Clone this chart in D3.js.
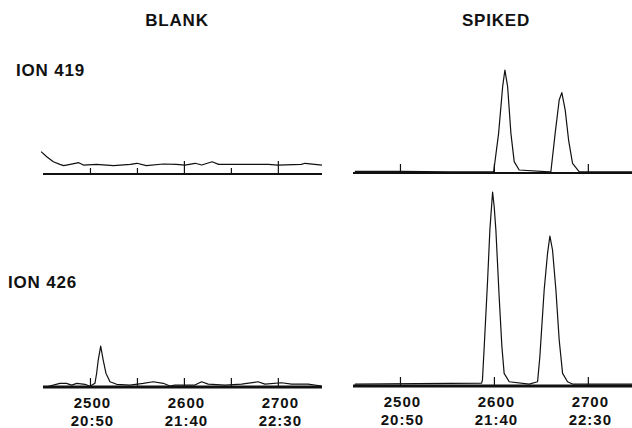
<!DOCTYPE html>
<html>
<head>
<meta charset="utf-8">
<script src="https://cdn.jsdelivr.net/npm/d3@7"></script>
<style>
  body { margin: 0; background: #fff; }
  text { font-family: "Liberation Sans", Arial, sans-serif; font-weight: bold; fill: #111; }
</style>
</head>
<body>
<svg id="chart" width="632" height="428"></svg>
<script>
// 1. Data  (scan number, relative intensity 0-100)
const columns = ["BLANK", "SPIKED"];
const ions = ["ION 419", "ION 426"];
const scanLabels = [2500, 2600, 2700];
const timeLabels = ["20:50", "21:40", "22:30"];
const minorTicks = [2500, 2550, 2650];
const majorTicks = [2600, 2700];
const spikedTicks = [2500, 2600, 2700];

const blank419 = [
  [2448, 21.7], [2454, 16.8], [2461, 11.9], [2468, 9.4], [2472, 8.1], [2479, 9.4],
  [2488, 11], [2493, 8.7], [2507, 9.4], [2525, 8.1], [2543, 9.4], [2550, 10.4],
  [2560, 8.1], [2578, 9.7], [2592, 9.4], [2601, 8.7], [2612, 10.4], [2619, 8.7],
  [2630, 11.9], [2637, 9.4], [2661, 9.4], [2690, 9.4], [2700, 8.7], [2725, 9.4],
  [2729, 10.4], [2747, 8.7]
];

const spiked419 = [
  [2452, 1.5], [2500, 1.5], [2553, 1.2], [2599.7, 1], [2605, 38.5], [2609.3, 83.8],
  [2611.7, 100], [2614.6, 83.8], [2618.1, 38.5], [2621.6, 11], [2626.9, 2.9],
  [2658.8, 1], [2660.6, 1], [2665.2, 38.5], [2669.5, 70.9], [2672.3, 78],
  [2675.9, 61], [2679.5, 32], [2683.7, 9.4], [2690.7, 1.3], [2747, 1.2]
];

const blank426 = [
  [2453, 0], [2468, 1.9], [2475, 1.9], [2480.5, 1], [2486, 1.9], [2494.7, 1.4],
  [2500, 0.4], [2505.3, 1.9], [2507.1, 7.1], [2508.8, 13.9], [2511.4, 21.1],
  [2514.1, 13.9], [2517, 7.1], [2521.3, 2.7], [2528.4, 1.4], [2542.6, 1],
  [2556.7, 1.9], [2567.3, 2.7], [2578, 1.9], [2585.1, 0.5], [2590.4, 1],
  [2611.7, 1], [2618.8, 2.7], [2625.9, 1.5], [2643.6, 1], [2661.4, 1.5],
  [2679, 2.7], [2686.2, 1.5], [2703.9, 2.2], [2714.6, 1.5], [2732.2, 1.5], [2746.5, 0.5]
];

const spiked426 = [
  [2452, 1], [2586.9, 1.5], [2587.8, 3.1], [2589.7, 20.4], [2593.3, 54.6], [2595.7, 80.4],
  [2598.6, 100], [2600.3, 92.4], [2602.1, 80.4], [2605.6, 45.9], [2608.5, 20.3],
  [2610.9, 6.5], [2616.3, 2.2], [2637.6, 1], [2646.5, 2.2], [2648.9, 15.1],
  [2653.5, 49.5], [2657.1, 68.4], [2659.6, 77.3], [2662.4, 70.1], [2666, 49.5],
  [2669.5, 23.7], [2673.1, 6.5], [2678.4, 2.2], [2683.7, 1], [2747, 1]
];

// 2. Layout
const scanDomain = [2450, 2747];
const panels = [
  { data: blank419, xr: [43, 322], yr: [174, 71], axisW: 2, kind: "blank", row: 0 },
  { data: spiked419, xr: [353, 632], yr: [173, 70], axisW: 2, kind: "spiked", row: 0 },
  { data: blank426, xr: [43, 322], yr: [387, 193], axisW: 3, kind: "blank", row: 1 },
  { data: spiked426, xr: [353, 632], yr: [386, 192], axisW: 3, kind: "spiked", row: 1 }
];

const svg = d3.select("#chart");

// Titles
svg.selectAll("text.col")
  .data(columns)
  .join("text")
  .attr("class", "col")
  .attr("x", (d, i) => [177, 496][i])
  .attr("y", 26)
  .attr("text-anchor", "middle")
  .style("font-size", "17px")
  .style("letter-spacing", "0.8px")
  .text((d) => d);

svg.selectAll("text.ion")
  .data(ions)
  .join("text")
  .attr("class", "ion")
  .attr("x", (d, i) => [16, 8][i])
  .attr("y", (d, i) => [76, 288][i])
  .style("font-size", "17px")
  .style("letter-spacing", "0.8px")
  .text((d) => d);

// 3. Panels
panels.forEach((p) => {
  const xScale = d3.scaleLinear().domain(scanDomain).range(p.xr);
  const yScale = d3.scaleLinear().domain([0, 100]).range(p.yr);
  const g = svg.append("g");
  const y0 = yScale(0);

  // baseline
  g.append("line")
    .attr("x1", p.xr[0])
    .attr("x2", p.xr[1])
    .attr("y1", y0)
    .attr("y2", y0)
    .attr("stroke", "#111")
    .attr("stroke-width", p.axisW);

  // ticks pointing up from the baseline
  const tickSets = p.kind === "spiked"
    ? [[spikedTicks, 9]]
    : p.row === 0 ? [[minorTicks, 6], [majorTicks, 13]] : [[minorTicks.concat(majorTicks), 9]];

  tickSets.forEach(([vals, len]) => {
    const ax = g.append("g")
      .attr("transform", `translate(0,${y0})`)
      .call(d3.axisTop(xScale).tickValues(vals).tickSize(len).tickFormat(""));
    ax.select(".domain").remove();
    ax.selectAll(".tick line").attr("stroke", "#111").attr("stroke-width", 1.2);
  });

  // trace
  const line = d3.line()
    .x((d) => xScale(d[0]))
    .y((d) => yScale(d[1]));

  g.append("path")
    .datum(p.data)
    .attr("d", line)
    .attr("fill", "none")
    .attr("stroke", "#111")
    .attr("stroke-width", 1.2)
    .attr("stroke-linejoin", "round");

  // scan / time labels under the lower row
  if (p.row === 1) {
    const lab = g.append("g")
      .attr("transform", `translate(0,${y0})`)
      .call(d3.axisBottom(xScale).tickValues(scanLabels).tickSize(0).tickFormat((d) => d));
    lab.select(".domain").remove();
    lab.attr("font-family", null).attr("font-size", null);
    lab.selectAll(".tick text")
      .attr("x", 2)
      .attr("y", 21)
      .attr("dy", null)
      .style("font-size", "15px")
      .style("letter-spacing", "1px");
    lab.selectAll(".tick")
      .append("text")
      .attr("x", 2)
      .attr("y", 39)
      .attr("text-anchor", "middle")
      .style("font-size", "15px")
      .style("letter-spacing", "1px")
      .text((d) => timeLabels[scanLabels.indexOf(d)]);
  }
});
</script>
</body>
</html>
